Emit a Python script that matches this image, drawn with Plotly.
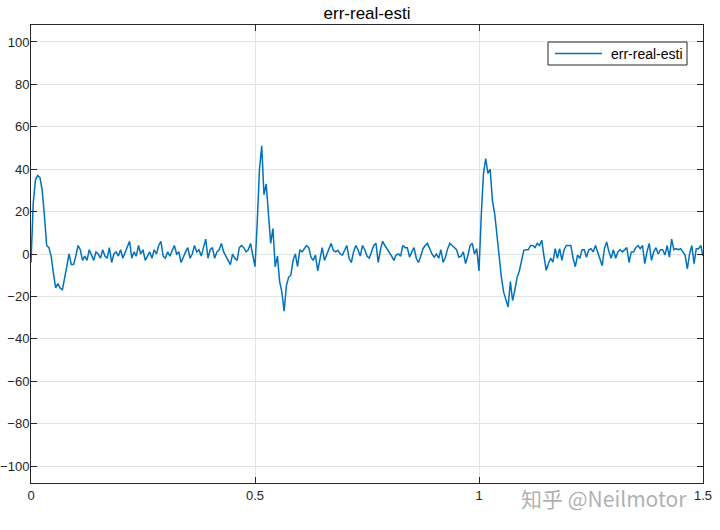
import plotly.graph_objects as go

# sample spacing of the recorded signal (s)
dt = 0.005

# transient at t = 0
err_event_0 = [-4, 24, 35, 37, 36, 30, 18, 4, 3, -1,
               -9, -16, -14, -16, -17, -11, -5, 0, -5, -5]
# steady noise 0.1 .. 0.495
err_noise_1 = [-1, 4, 2, -3, -1, -3, 2, -1, -3, 1,
               0, -2, 2, -1, -2, 3, -4, 0, 1, -1,
               2, -2, 1, 4, 6, -2, 1, -1, 4, 0,
               2, -3, -1, 1, -2, 2, 0, 4, 6, -1,
               -2, 1, -1, 2, 4, 0, 1, -4, -1, 1,
               3, -2, 0, 4, 1, 2, -1, 3, 7, -2,
               2, 3, -2, 1, 2, 5, 1, -1, -3, -5,
               0, -2, -3, 3, 4, 3, 1, 2, 5, -1]
# transient at t = 0.5
err_event_2 = [-6, 15, 40, 51, 28, 33, 20, 5, 12, -6,
               -1, -13, -18, -27, -15, -11, -10, -3, 0, -6]
# steady noise 0.6 .. 0.995
err_noise_2 = [2, 1, 2.5, 4, 3, -1.5, -3, -0.5, -8, -1.5,
               3, -3, 0, 2.5, 5, 1.7, 1, 1.7, 0, -0.5,
               2, 4, -2, -4, 1, 4, 2, -1, 4, 2,
               -1, -2, 1, 4, 5, -4, 2, 6, 4, 2.5,
               1, -1, -3, -0.5, 0, -1, 4, 3, 3, -1.5,
               1, 3, -2, -4, -1, 2.5, 4, 5, 2.5, 0,
               -1.5, 0, -2, 2, -4, -1.5, 2.5, 5, 4, 3,
               2, -1.5, -1, 1, -4.5, -1, 4, 5, 0, 2.5]
# transient at t = 1.0
err_event_3 = [-8, 18, 38, 45, 38, 40, 25, 19, 8, -1,
               -11, -18, -22, -25, -13, -22, -17, -11, -8, -3]
# steady noise 1.1 .. 1.5
err_noise_3 = [1.7, 2, 2, 4, 4, 3, 5, 4, 6.5, -1,
               -7.7, -4.5, -2, -3.8, 2.5, -2, 2.5, -3, 2, 4,
               4, 4, -2, -6, -0.5, -2, 2, 2, -1.5, 2,
               2.5, 1, 4, 1, -1.5, -5.5, 2.5, 5.7, 1, -2,
               2, -2, 1, 2, 1, 2, 3, -4, 1, 1,
               3, 4, 2.5, 4, -4.5, 1, 5, -3, 1, 3,
               0, 2, 2, -0.5, 4, -1.5, 7, 2, 2.5, 2,
               2.5, 1, -0.5, -7, 0, 4, -4.5, 2.5, 2.5, 4,
               -1]

err = err_event_0 + err_noise_1 + err_event_2 + err_noise_2 + err_event_3 + err_noise_3
t = [round(i * dt, 4) for i in range(len(err))]

x_ticks = [0, 0.5, 1, 1.5]
x_tick_labels = ["0", "0.5", "1", "1.5"]
y_ticks = list(range(-100, 101, 20))
series_name = "err-real-esti"

LINE_COLOR = "#0072BD"
AX_COLOR = "#262626"

fig = go.Figure()
fig.add_trace(go.Scatter(x=t, y=err, mode="lines", name=series_name, showlegend=False,
                         line=dict(color=LINE_COLOR, width=1.5)))

axis_common = dict(showline=True, linecolor=AX_COLOR, linewidth=1, mirror="allticks",
                   ticks="inside", ticklen=6, tickcolor=AX_COLOR, tickwidth=1,
                   showgrid=True, gridcolor="#e3e3e3", gridwidth=1, zeroline=False,
                   automargin=False,
                   tickfont=dict(size=13, color=AX_COLOR))

fig.update_layout(
    width=720, height=530,
    margin=dict(l=31, r=17, t=25, b=47, autoexpand=False),
    plot_bgcolor="white", paper_bgcolor="white",
    font=dict(family="Liberation Sans, Arial, sans-serif", size=14, color=AX_COLOR),
    title=dict(text="err-real-esti", x=0.5, xref="paper", xanchor="center",
               y=1 - 13 / 530, yref="container", yanchor="middle",
               font=dict(size=17, color="#000000")),
    xaxis=dict(range=[0, 1.5], tickvals=x_ticks, ticktext=x_tick_labels, **axis_common),
    yaxis=dict(range=[-108, 108], tickvals=y_ticks, ticklabelstandoff=-2, **axis_common),
)

# legend box drawn in plot-area coordinates (plot area spans x 31..703, y 25..483)
def px(xs):
    return (xs - 31) / 672

def py(ys):
    return (483 - ys) / 458

fig.add_shape(type="rect", xref="paper", yref="paper",
              x0=px(548), x1=px(687), y0=py(65), y1=py(42),
              line=dict(color=AX_COLOR, width=1), fillcolor="white", layer="above")
fig.add_shape(type="line", xref="paper", yref="paper",
              x0=px(555), x1=px(602), y0=py(53.5), y1=py(53.5),
              line=dict(color=LINE_COLOR, width=1.5), layer="above")
fig.add_annotation(text=series_name, xref="paper", yref="paper",
                   x=px(609), y=py(53.5), xanchor="left", yanchor="middle",
                   showarrow=False, font=dict(size=14, color="#000000"))

fig.add_annotation(text="知乎 @Neilmotor", xref="paper", yref="paper",
                   x=px(604), y=py(498), showarrow=False,
                   xanchor="center", yanchor="middle",
                   font=dict(family="Noto Sans CJK SC", size=21, color="rgba(150,150,150,0.75)"))

fig.write_html("out.html", config={"displayModeBar": False},
               post_script="document.body.style.margin='0';document.body.style.overflow='hidden';")
